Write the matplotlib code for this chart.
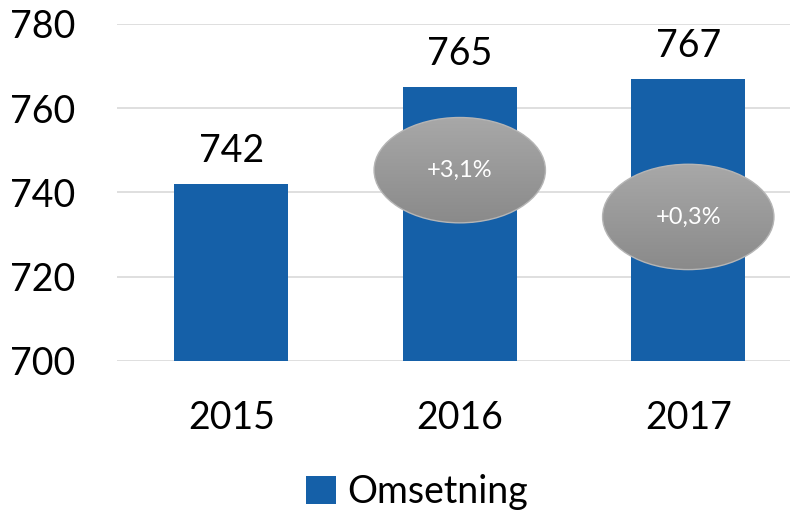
import numpy as np
import matplotlib.pyplot as plt
from matplotlib.patches import Ellipse
from matplotlib.colors import LinearSegmentedColormap

years = ['2015', '2016', '2017']
omsetning = [742, 765, 767]
growth = ['', '+3,1%', '+0,3%']

plt.rcParams['font.family'] = ['Lato', 'DejaVu Sans']

fig = plt.figure(figsize=(7.94, 5.14), dpi=100)
ax = fig.add_axes([117 / 794, 1 - 361 / 514, 673 / 794, 337 / 514])

x = np.arange(len(years))
bars = ax.bar(x, omsetning, width=0.5, color='#1560a8', zorder=2, label='Omsetning')

ax.set_yticks([700, 720, 740, 760, 780])
ax.yaxis.grid(True, color='#d9d9d9', linewidth=1.2, zorder=0)
ax.set_axisbelow(True)
for s in ax.spines.values():
    s.set_visible(False)
ax.tick_params(length=0, labelsize=27)
ax.tick_params(axis='x', pad=28)
ax.tick_params(axis='y', pad=30)
ax.set_xticks(x)
ax.set_xticklabels(years)

for xi, v in zip(x, omsetning):
    ax.text(xi, v + 3.5, str(v), ha='center', va='bottom', fontsize=27)

# growth bubbles with a vertical gray gradient
grad = np.linspace(0, 1, 256).reshape(-1, 1)
cmap = LinearSegmentedColormap.from_list('g', ['#8a8a8a', '#a8a8a8'])
bubble_y = [None, 745.3, 734.2]
for xi, g, cy in zip(x, growth, bubble_y):
    if not g:
        continue
    w, h = 0.75, 25
    e = Ellipse((xi, cy), w, h, facecolor='none', edgecolor='#b5b5b5',
                linewidth=1, zorder=4)
    ax.add_patch(e)
    im = ax.imshow(grad, cmap=cmap,
                   extent=(xi - w / 2, xi + w / 2, cy - h / 2, cy + h / 2),
                   origin='lower', aspect='auto', zorder=3)
    im.set_clip_path(e)
    ax.text(xi, cy, g, ha='center', va='center', fontsize=17, color='white', zorder=5)

ax.set_xlim(-0.5, -0.5 + 673 / 228.5)
ax.set_ylim(700, 780)

fig.legend(handles=[bars], labels=['Omsetning'], loc='center', bbox_to_anchor=(417 / 794, 1 - 492 / 514),
           frameon=False, fontsize=27, handlelength=0.8, handleheight=0.8, handletextpad=0.3)

fig.savefig('out.png', dpi=100)
